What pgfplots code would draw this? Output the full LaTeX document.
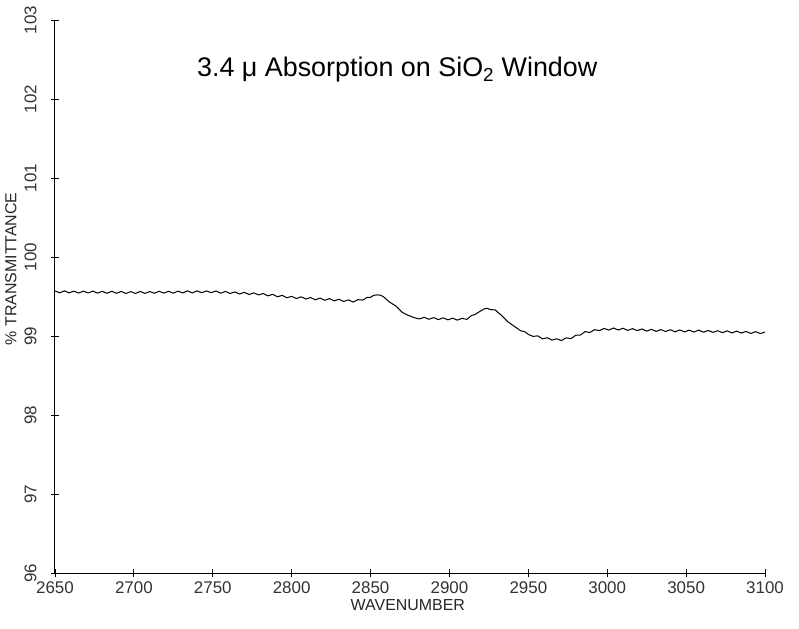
\documentclass[border=0pt]{standalone}
\usepackage{fontspec}
\setmainfont{Liberation Sans}
\usepackage{pgfplots}
\pgfplotsset{compat=1.18}
\begin{document}
\begin{tikzpicture}
\useasboundingbox (-55bp,-56bp) rectangle (744bp,573bp);
\begin{axis}[
  at={(0,0)}, anchor=south west,
  scale only axis, width=710bp, height=553bp,
  xmin=2650, xmax=3100, ymin=96, ymax=103,
  axis x line*=bottom, axis y line*=left,
  xtick={2650,2700,...,3100}, ytick={96,97,...,103},
  scaled ticks=false,
  /pgf/number format/1000 sep={},
  /pgf/number format/assume math mode=true,
  tick align=center, major tick length=8bp,
  tick style={black, line width=0.8bp},
  axis line style={line width=1bp},
  ticklabel style={font=\fontsize{17}{19}\selectfont, text=black!80},
  yticklabel style={rotate=90, anchor=south},
  yticklabel shift=11bp,
  xticklabel shift=1bp,
  xlabel={WAVENUMBER}, ylabel={\% TRANSMITTANCE},
  label style={font=\fontsize{16}{18}\selectfont, text=black!85},
  xlabel style={at={(axis description cs:0.497,-0.058)}, anchor=center},
  ylabel style={at={(axis description cs:-0.062,0.55)}, anchor=center},
  clip=false,
]
\addplot[black, line width=1bp, sharp plot] coordinates {
(2650,99.570)(2653,99.547)(2656,99.571)(2659,99.546)(2662,99.568)(2665,99.544)(2668,99.568)(2671,99.545)(2674,99.568)(2677,99.543)
(2680,99.565)(2683,99.541)(2686,99.566)(2689,99.541)(2692,99.564)(2695,99.538)(2698,99.562)(2701,99.538)(2704,99.564)(2707,99.539)
(2710,99.563)(2713,99.541)(2716,99.566)(2719,99.543)(2722,99.566)(2725,99.542)(2728,99.568)(2731,99.545)(2734,99.571)(2737,99.545)
(2740,99.571)(2743,99.548)(2746,99.571)(2749,99.548)(2752,99.570)(2755,99.542)(2758,99.564)(2761,99.538)(2764,99.558)(2767,99.531)
(2770,99.553)(2773,99.525)(2776,99.546)(2779,99.520)(2782,99.538)(2785,99.508)(2788,99.527)(2791,99.497)(2794,99.514)(2797,99.484)
(2800,99.502)(2803,99.474)(2806,99.496)(2809,99.468)(2812,99.487)(2815,99.458)(2818,99.480)(2821,99.452)(2824,99.473)(2827,99.445)
(2830,99.465)(2833,99.437)(2836,99.457)(2839,99.429)(2842,99.460)(2845,99.455)(2848,99.490)(2850,99.490)(2852,99.515)(2854,99.520)
(2856,99.518)(2858,99.500)(2860,99.465)(2862,99.430)(2864,99.405)(2866,99.380)(2868,99.340)(2870,99.300)(2872,99.280)(2874,99.260)
(2876,99.245)(2878,99.230)(2881,99.216)(2884,99.237)(2887,99.212)(2890,99.233)(2893,99.207)(2896,99.230)(2899,99.205)(2902,99.226)
(2905,99.201)(2908,99.223)(2911,99.210)(2914,99.260)(2916,99.270)(2918,99.295)(2920,99.320)(2922,99.343)(2924,99.350)(2926,99.334)
(2929,99.330)(2931,99.295)(2933,99.260)(2935,99.220)(2937,99.180)(2939,99.152)(2942,99.110)(2945,99.068)(2948,99.051)(2950,99.020)
(2953,98.995)(2956,99.002)(2959,98.964)(2962,98.978)(2965,98.948)(2968,98.965)(2971,98.942)(2974,98.977)(2977,98.966)(2980,99.009)
(2983,99.012)(2986,99.056)(2989,99.044)(2992,99.080)(2995,99.068)(2998,99.096)(3001,99.075)(3004,99.101)(3007,99.076)(3010,99.098)
(3013,99.071)(3016,99.093)(3019,99.068)(3022,99.089)(3025,99.062)(3028,99.084)(3031,99.058)(3034,99.081)(3037,99.057)(3040,99.079)
(3043,99.053)(3046,99.077)(3049,99.052)(3052,99.074)(3055,99.050)(3058,99.074)(3061,99.048)(3064,99.070)(3067,99.046)(3070,99.067)
(3073,99.042)(3076,99.065)(3079,99.039)(3082,99.061)(3085,99.037)(3088,99.058)(3091,99.032)(3094,99.055)(3097,99.030)(3100,99.050)
};
\node[font=\fontsize{27}{31}\selectfont, anchor=center] at (axis description cs:0.482,0.91) {3.4 μ Absorption on SiO\textsubscript{2} Window};
\end{axis}
\end{tikzpicture}
\end{document}
